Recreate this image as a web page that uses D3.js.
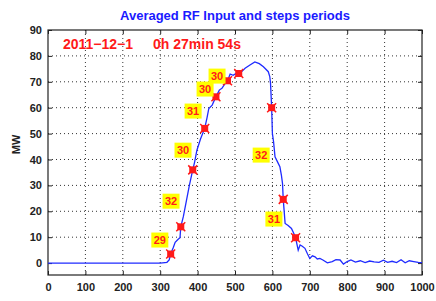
<!DOCTYPE html>
<html>
<head>
<meta charset="utf-8">
<script src="https://cdn.jsdelivr.net/npm/d3@7"></script>
<style>
  body { margin: 0; background: #fff; }
  svg text { font-family: "Liberation Sans", Arial, sans-serif; }
</style>
</head>
<body>
<div id="chart"></div>
<script>
// averaged RF input, MW vs time
const curveX = [0, 100, 200, 300, 318, 324, 328, 335, 340, 348, 353, 355, 362, 370, 378, 387, 392, 398, 408, 419, 425, 430, 439, 449, 458, 465, 472, 480, 487, 495, 503, 510, 518, 527, 540, 553, 565, 576, 589, 593, 595, 598, 600, 603, 607, 614, 620, 624, 627, 629, 632, 634, 642, 651, 657, 662, 666, 669, 674, 680, 687, 694, 700, 707, 714, 720, 727, 735, 747, 760, 770, 781, 790, 800, 810, 822, 835, 848, 860, 872, 885, 897, 908, 920, 932, 944, 955, 966, 978, 990, 1000];
const curveY = [0, 0, 0, 0, 0.3, 1.2, 3.5, 6, 8, 9.2, 9.8, 14, 18, 24, 30, 36, 39, 43.5, 48, 52, 56, 59.7, 61, 64.2, 66.8, 67.5, 69, 70.4, 73, 72.5, 73.2, 73.2, 74, 75.2, 76.5, 77.7, 77, 75.8, 73.9, 72, 69.4, 60, 50, 47, 41, 39, 37.2, 34, 30.8, 24.6, 19, 15.3, 14.5, 13.4, 11.5, 9.8, 7, 5, 7, 6.5, 5.7, 3.5, 1.8, 2.8, 2.4, 1.6, 1.8, 1.2, 0.1, 0.6, 1.3, 1.2, -0.4, 0.6, 1.2, 0.4, 0.9, 0.2, 0.8, 0.5, 0.3, 1.1, 0.3, 0.7, 0.2, 1.3, 0.1, 0.9, 0.6, 0.3, 0.2];

// step boundaries (red markers)
const stepX = [328, 355, 387, 419, 449, 480, 510, 598, 629, 662];
const stepY = [3.5, 14, 36, 52, 64.2, 70.4, 73.2, 60, 24.6, 9.8];

// period labels (yellow boxes)
const periodLabels = ['29', '32', '30', '31', '30', '30', '32', '31'];
const periodX = [299, 329, 361, 388, 420, 452, 570, 604];
const periodY = [8.9, 23.9, 43.6, 58.7, 67.2, 72.2, 41.7, 17];

const xTicks = [0, 100, 200, 300, 400, 500, 600, 700, 800, 900, 1000];
const yTicks = [0, 10, 20, 30, 40, 50, 60, 70, 80, 90];

const W = 436, H = 301;
const margin = {top: 30, right: 14, bottom: 26, left: 48};
const width = W - margin.left - margin.right,
      height = H - margin.top - margin.bottom;

const svg = d3.select('#chart').append('svg')
    .attr('width', W)
    .attr('height', H);

const g = svg.append('g')
    .attr('transform', `translate(${margin.left},${margin.top})`);

const x = d3.scaleLinear().domain([0, 1000]).range([0, width]);
const y = d3.scaleLinear().domain([-4.6, 90]).range([height, 0]);

// dotted grid
g.append('g')
    .selectAll('line')
    .data(xTicks.slice(1, -1))
    .join('line')
    .attr('x1', d => x(d)).attr('x2', d => x(d))
    .attr('y1', 0).attr('y2', height)
    .attr('stroke', '#333')
    .attr('stroke-width', 1)
    .attr('stroke-dasharray', '1,3');
g.append('g')
    .selectAll('line')
    .data(yTicks.slice(1, -1))
    .join('line')
    .attr('x1', 0).attr('x2', width)
    .attr('y1', d => y(d)).attr('y2', d => y(d))
    .attr('stroke', '#333')
    .attr('stroke-width', 1)
    .attr('stroke-dasharray', '1,3');

// axes, ticks pointing inside
const styleAxis = sel => {
    sel.select('.domain').remove();
    sel.selectAll('line').attr('stroke', '#222');
    sel.selectAll('text')
        .attr('fill', '#222')
        .style('font-size', '11px')
        .style('font-weight', 'bold');
};
g.append('g')
    .attr('transform', `translate(0,${height})`)
    .call(d3.axisBottom(x).tickValues(xTicks).tickFormat(d3.format('d'))
        .tickSizeInner(-4).tickSizeOuter(0).tickPadding(8))
    .call(styleAxis);
g.append('g')
    .call(d3.axisTop(x).tickValues(xTicks).tickSizeInner(-4).tickSizeOuter(0).tickFormat(''))
    .call(styleAxis);
g.append('g')
    .call(d3.axisLeft(y).tickValues(yTicks).tickSizeInner(-4).tickSizeOuter(0).tickPadding(6))
    .call(styleAxis);
g.append('g')
    .attr('transform', `translate(${width},0)`)
    .call(d3.axisRight(y).tickValues(yTicks).tickSizeInner(-4).tickSizeOuter(0).tickFormat(''))
    .call(styleAxis);

// plot box
g.append('rect')
    .attr('width', width).attr('height', height)
    .attr('fill', 'none')
    .attr('stroke', '#222')
    .attr('stroke-width', 1.2);

// curve
const line = d3.line()
    .x((d, i) => x(curveX[i]))
    .y(d => y(d));
g.append('path')
    .datum(curveY)
    .attr('d', line)
    .attr('fill', 'none')
    .attr('stroke', '#1f2bff')
    .attr('stroke-width', 1.3);

// step markers: red square with a cross
const markers = g.append('g')
    .selectAll('g')
    .data(stepX)
    .join('g')
    .attr('transform', (d, i) => `translate(${x(d)},${y(stepY[i])})`);
markers.append('rect')
    .attr('x', -3.5).attr('y', -3.5)
    .attr('width', 7).attr('height', 7)
    .attr('fill', '#ff1a1a');
markers.append('path')
    .attr('d', 'M-4.5,-4.5L4.5,4.5M-4.5,4.5L4.5,-4.5')
    .attr('stroke', '#ff1a1a')
    .attr('stroke-width', 1.5);

// period labels
const labels = g.append('g')
    .selectAll('g')
    .data(periodLabels)
    .join('g')
    .attr('transform', (d, i) => `translate(${x(periodX[i])},${y(periodY[i])})`);
labels.append('rect')
    .attr('x', -8.5).attr('y', -7.5)
    .attr('width', 17).attr('height', 15)
    .attr('fill', '#ffff00');
labels.append('text')
    .attr('text-anchor', 'middle')
    .attr('dy', '0.36em')
    .attr('fill', '#ff1a1a')
    .style('font-size', '11px')
    .style('font-weight', 'bold')
    .text(d => d);

// date/time stamp
const stamp = g.append('text')
    .attr('y', 19)
    .attr('fill', '#ff1a1a')
    .style('font-size', '14px')
    .style('font-weight', 'bold');
stamp.append('tspan').attr('x', 15).text('2011\u221212\u22121');
stamp.append('tspan').attr('x', 105).text('0h 27min 54s');

// title
svg.append('text')
    .attr('x', margin.left + width / 2)
    .attr('y', 20)
    .attr('text-anchor', 'middle')
    .attr('fill', '#1a1aff')
    .style('font-size', '13px')
    .style('font-weight', 'bold')
    .text('Averaged RF Input and steps periods');

// axis labels
svg.append('text')
    .attr('transform', `translate(20,${margin.top + height / 2 - 8}) rotate(-90)`)
    .attr('text-anchor', 'middle')
    .attr('fill', '#222')
    .style('font-size', '11px')
    .style('font-weight', 'bold')
    .text('MW');
svg.append('text')
    .attr('x', margin.left + width / 2)
    .attr('y', 308)
    .attr('text-anchor', 'middle')
    .attr('fill', '#222')
    .style('font-size', '11px')
    .style('font-weight', 'bold')
    .text('ms');
</script>
</body>
</html>
